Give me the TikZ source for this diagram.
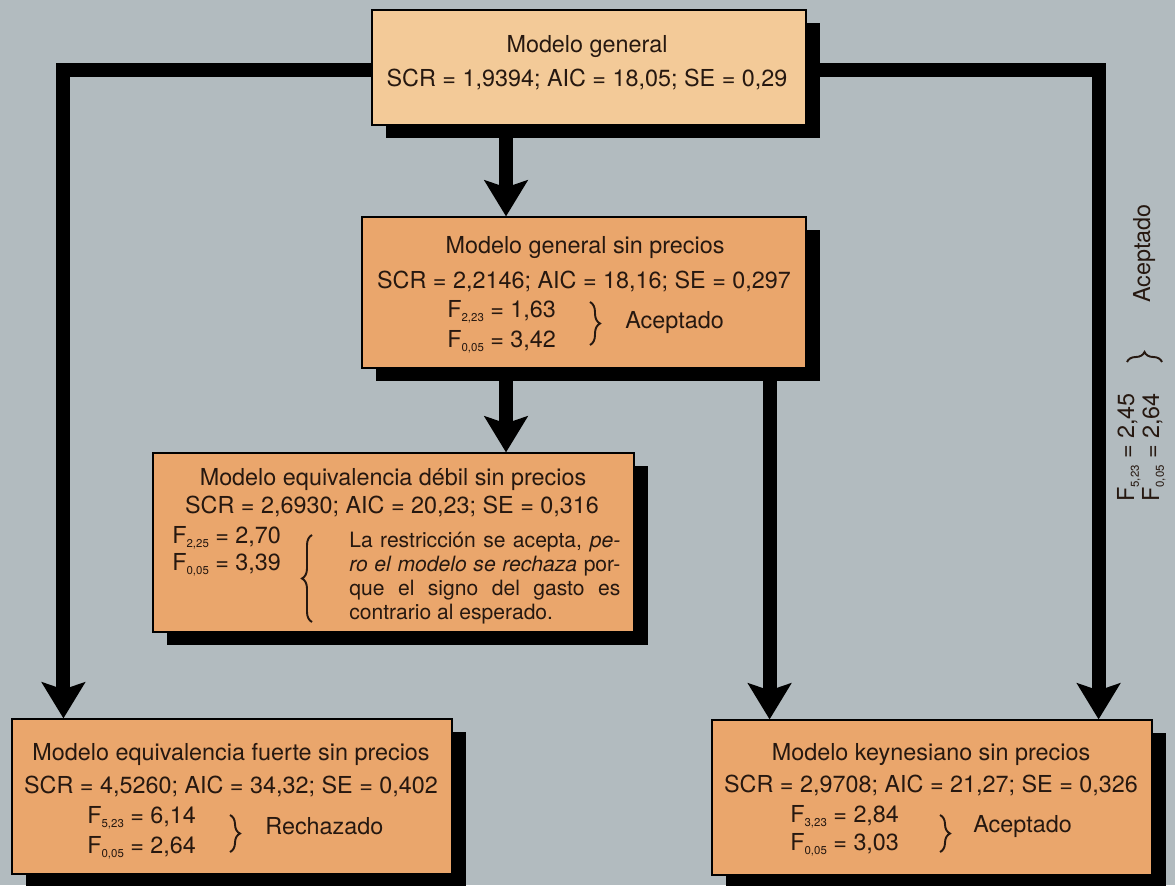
\documentclass[tikz,border=0pt]{standalone}
\usepackage{fontspec}
\setmainfont{TeX Gyre Heros}
\usetikzlibrary{arrows.meta,shadows,decorations.pathreplacing}
\definecolor{fondo}{RGB}{178,187,191}
\definecolor{naranja}{RGB}{234,166,108}
\definecolor{claro}{RGB}{243,202,152}
\definecolor{tinta}{RGB}{38,24,16}
\newcommand{\Fs}[1]{F\raisebox{-0.4ex}{\fontsize{6.5}{7}\selectfont#1}}

\begin{document}
\begin{tikzpicture}[x=0.02cm, y=-0.02cm, inner sep=0pt, text=tinta,
  font=\fontsize{13.3}{16}\selectfont,
  box/.style={draw, line width=0.7pt, fill=naranja,
    drop shadow={shadow xshift=0.28cm, shadow yshift=-0.26cm, fill=black, opacity=1}},
  flow/.style={line width=0.28cm, -{Stealth[length=0.72cm, width=0.86cm, inset=0.14cm]}},
  llave/.style={decorate, decoration={brace, amplitude=0.2cm}, line width=1.1pt, draw=tinta}]
\useasboundingbox (0,0) rectangle (1175,885);
\fill[fondo] (0,0) rectangle (1175,885);
% cajas
\node[box, fill=claro, minimum width=8.68cm, minimum height=2.3cm] (gen) at (589,67.5) {};
\node[box, minimum width=8.88cm, minimum height=3.02cm] (gsp) at (584,292.5) {};
\node[box, minimum width=9.62cm, minimum height=3.58cm] (deb) at (393.5,542.5) {};
\node[box, minimum width=8.8cm, minimum height=3.1cm] (fue) at (232,796.5) {};
\node[box, minimum width=8.8cm, minimum height=3.1cm] (key) at (932,797.5) {};
% flechas
\coordinate (a) at ([xshift=-1.56cm]gsp.north);
\coordinate (b) at ([xshift=-1.56cm]gsp.south);
\coordinate (c) at ([xshift=-0.74cm]gsp.south east);
\draw[flow] (a |- gen.south) -- (a);
\draw[flow] (b) -- (b |- deb.north);
\draw[flow] (c) -- (c |- key.north);
\draw[flow] ([yshift=-0.05cm]gen.west) -| ([xshift=1.04cm]fue.north west);
\draw[flow] ([yshift=-0.05cm]gen.east) -| ([xshift=-1.08cm]key.north east);

\node[anchor=base] (gen1) at (587,53) {Modelo general};
\node[anchor=base] (gen2) at (587,87) {SCR = 1,9394; AIC = 18,05; SE = 0,29};

\node[anchor=base] (gsp1) at (585,253) {Modelo general sin precios};
\node[anchor=base] (gsp2) at (584,288) {SCR = 2,2146; AIC = 18,16; SE = 0,297};
\node[anchor=base west] (gsp3) at (447,317) {\Fs{2,23} = 1,63};
\node[anchor=base west] (gsp4) at (447,347) {\Fs{0,05} = 3,42};
\draw[llave] (590,302) -- (590,345);
\node[anchor=base west] (gsp5) at (625,328) {Aceptado};

\node[anchor=base] (deb1) at (393,485) {Modelo equivalencia débil sin precios};
\node[anchor=base] (deb2) at (392,513) {SCR = 2,6930; AIC = 20,23; SE = 0,316};
\node[anchor=base west] (deb3) at (172,543) {\Fs{2,25} = 2,70};
\node[anchor=base west] (deb4) at (172,570) {\Fs{0,05} = 3,39};
\draw[llave] (312,622) -- (312,535);
\node[anchor=north west, text width=5.42cm, align=justify, font=\fontsize{12}{13.6}\selectfont]
  (deb5) at (349,532) {La restricción se acepta, \emph{pe-}\linebreak
  \emph{ro el modelo se rechaza} por-\linebreak que el signo del gasto es\linebreak
  contrario al esperado.};

\node[anchor=base] (fue1) at (231,760) {Modelo equivalencia fuerte sin precios};
\node[anchor=base] (fue2) at (231,793) {SCR = 4,5260; AIC = 34,32; SE = 0,402};
\node[anchor=base west] (fue3) at (87,823) {\Fs{5,23} = 6,14};
\node[anchor=base west] (fue4) at (87,853) {\Fs{0,05} = 2,64};
\draw[llave] (230,815) -- (230,852);
\node[anchor=base west] (fue5) at (265,834) {Rechazado};

\node[anchor=base] (key1) at (931,760) {Modelo keynesiano sin precios};
\node[anchor=base] (key2) at (931,792) {SCR = 2,9708; AIC = 21,27; SE = 0,326};
\node[anchor=base west] (key3) at (790,822) {\Fs{3,23} = 2,84};
\node[anchor=base west] (key4) at (790,850) {\Fs{0,05} = 3,03};
\draw[llave] (940,815) -- (940,852);
\node[anchor=base west] (key5) at (973,832) {Aceptado};

\node[rotate=90, anchor=base west] (lat1) at (1134,502) {\Fs{5,23} = 2,45};
\node[rotate=90, anchor=base west] (lat2) at (1159,502) {\Fs{0,05} = 2,64};
\draw[llave] (1127,362) -- (1162,362);
\node[rotate=90, anchor=base west] (lat3) at (1150,303) {Aceptado};
\end{tikzpicture}
\end{document}
